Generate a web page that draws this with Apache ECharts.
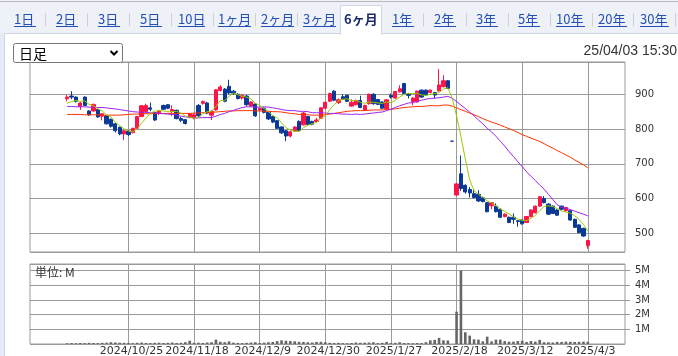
<!DOCTYPE html>
<html><head><meta charset="utf-8">
<script src="https://cdn.jsdelivr.net/npm/echarts@6/dist/echarts.min.js"></script>
<style>html,body{margin:0;padding:0;background:#fff}#c{width:678px;height:356px}</style>
</head><body><div id="c"></div>
<script>
const dates = ['2024/10/4','2024/10/7','2024/10/8','2024/10/9','2024/10/10','2024/10/11','2024/10/15','2024/10/16','2024/10/17','2024/10/18','2024/10/21','2024/10/22','2024/10/23','2024/10/24','2024/10/25','2024/10/28','2024/10/29','2024/10/30','2024/10/31','2024/11/1','2024/11/5','2024/11/6','2024/11/7','2024/11/8','2024/11/11','2024/11/12','2024/11/13','2024/11/14','2024/11/15','2024/11/18','2024/11/19','2024/11/20','2024/11/21','2024/11/22','2024/11/25','2024/11/26','2024/11/27','2024/11/28','2024/11/29','2024/12/2','2024/12/3','2024/12/4','2024/12/5','2024/12/6','2024/12/9','2024/12/10','2024/12/11','2024/12/12','2024/12/13','2024/12/16','2024/12/17','2024/12/18','2024/12/19','2024/12/20','2024/12/23','2024/12/24','2024/12/25','2024/12/26','2024/12/27','2024/12/30','2025/1/6','2025/1/7','2025/1/8','2025/1/9','2025/1/10','2025/1/14','2025/1/15','2025/1/16','2025/1/17','2025/1/20','2025/1/21','2025/1/22','2025/1/23','2025/1/24','2025/1/27','2025/1/28','2025/1/29','2025/1/30','2025/1/31','2025/2/3','2025/2/4','2025/2/5','2025/2/6','2025/2/7','2025/2/10','2025/2/12','2025/2/13','2025/2/14','2025/2/17','2025/2/18','2025/2/19','2025/2/20','2025/2/21','2025/2/25','2025/2/26','2025/2/27','2025/2/28','2025/3/3','2025/3/4','2025/3/5','2025/3/6','2025/3/7','2025/3/10','2025/3/11','2025/3/12','2025/3/13','2025/3/14','2025/3/17','2025/3/18','2025/3/19','2025/3/21','2025/3/24','2025/3/25','2025/3/26','2025/3/27','2025/3/28','2025/3/31','2025/4/1','2025/4/2','2025/4/3'];

const opens = [887,895,892,865,892,852,852,856,837,838, 828,815,805,786,794,790,802,836,850,861, 847,846,868,870,851,854,830,827,833,832, 868,874,875,840,855,911,915,923,909,900, 889,895,866,872,855,860,848,836,824,806, 795,780,794,822,812,836,822,822,831,860, 880,909,876,893,897,866,870,882,855,873, 900,885,878,858,897,889,907,931,900,879, 878,912,912,905,905,910,922,939,765,610, 671,638,626,614,612,602,588,579,578,569, 548,546,546,536,538,531,548,559,578,600, 584,578,567,578,565,565,540,524,514,464];
const closes = [892,892,880,875,868,841,871,835,844,815, 808,795,786,795,784,802,836,867,868,857, 826,851,857,860,856,830,825,816,844,841, 838,879,846,851,913,921,880,904,903,888, 897,870,878,838,859,848,829,820,802,789, 780,792,806,796,846,813,814,826,861,877, 902,883,884,886,880,877,882,862,868,900, 873,871,860,884,892,908,916,902,897,889, 909,892,898,912,898,927,939,917,765,642, 629,619,616,603,593,591,562,588,562,546, 555,531,540,534,527,548,567,578,605,588, 555,557,552,569,574,538,517,502,492,479];
const lows = [880,886,876,855,866,838,850,832,825,813, 804,790,782,768,780,787,800,834,848,851, 823,840,855,857,838,828,820,813,831,828, 835,870,843,826,853,908,877,900,898,885, 885,866,864,835,852,845,826,817,800,786, 765,776,792,794,810,810,811,818,829,858, 878,880,872,884,878,864,868,860,852,870, 870,869,858,856,888,887,905,900,888,868, 876,890,896,903,888,908,920,915,765,608, 622,614,603,600,590,589,560,569,560,544, 546,529,527,519,525,529,546,557,576,586, 553,555,550,566,562,536,515,500,490,455];
const highs = [899,909,894,878,894,854,873,858,846,840, 830,818,807,797,796,804,838,869,873,876, 849,855,870,872,868,856,835,829,846,845, 872,882,878,854,915,926,918,942,912,903, 900,898,880,874,862,862,850,838,826,808, 797,795,808,825,849,838,824,832,863,879, 905,912,888,900,899,885,885,896,870,902, 903,887,880,886,902,910,926,933,903,891, 911,914,914,914,907,973,955,941,765,644, 724,641,633,624,624,604,590,590,586,571, 557,548,557,538,540,550,569,580,607,607, 586,580,569,580,576,567,542,526,516,481];
const volumes = [0.05,0.06,0.05,0.07,0.06,0.08,0.07,0.06,0.08,0.09, 0.12,0.10,0.09,0.08,0.07,0.06,0.08,0.10,0.07,0.06, 0.08,0.09,0.07,0.08,0.10,0.07,0.08,0.12,0.22,0.08, 0.09,0.07,0.10,0.12,0.30,0.15,0.12,0.18,0.09,0.07, 0.06,0.08,0.10,0.12,0.07,0.09,0.12,0.14,0.20,0.25, 0.22,0.20,0.18,0.15,0.14,0.12,0.10,0.14,0.15,0.12, 0.08,0.07,0.08,0.06,0.05,0.07,0.10,0.08,0.09,0.10, 0.12,0.06,0.08,0.14,0.06,0.08,0.12,0.07,0.06,0.05, 0.07,0.06,0.12,0.25,0.28,0.42,0.25,0.24,0,2.2, 5.0,0.80,0.57,0.32,0.30,0.18,0.50,0.18,0.30,0.30, 0.20,0.16,0.16,0.20,0.22,0.14,0.20,0.16,0.28,0.12, 0.12,0.10,0.14,0.14,0.16,0.15,0.14,0.15,0.16,0.15];
const ma5 = [874,879,882,880,881,871,867,858,852,841, 835,819,810,800,794,792,801,817,831,846, 851,854,852,850,850,851,846,837,834,831, 833,844,850,851,865,882,882,894,904,899, 894,892,887,874,868,859,850,839,832,818, 804,797,794,793,804,811,815,819,832,838, 856,870,881,886,887,882,882,877,874,878, 877,875,874,878,876,883,892,900,903,902, 903,898,897,900,902,905,915,919,889,838, 778,714,654,622,612,604,593,587,579,570, 563,556,547,541,537,536,543,551,565,577, 579,577,571,564,561,558,550,540,525,506];
const ma25 = [865,865,864,864,864,863,863,862,862,861, 859,858,856,854,852,850,849,848,848,847, 847,845,844,843,842,840,837,835,834,832, 832,833,833,833,837,842,845,850,854,858, 862,864,864,863,863,864,863,861,859,856, 854,853,853,851,851,850,847,847,847,846, 845,845,844,843,843,842,843,842,843,845, 846,848,849,853,857,862,867,871,875,876, 880,883,886,888,889,890,892,894,889,879, 869,859,849,838,826,815,802,792,779,765, 751,735,721,706,692,677,664,652,639,627, 612,597,582,574,572,568,564,559,555,550];
const ma50 = [842,842,842,842,841,841,841,841,840,840, 840,840,840,841,842,843,843,844,844,844, 845,845,845,845,845,845,845,845,845,846, 846,847,847,848,849,850,851,852,852,853, 853,853,853,852,852,851,851,850,850,849, 847,845,844,842,842,841,840,840,840,841, 843,845,847,849,851,852,853,853,853,854, 855,855,855,856,857,858,860,862,863,864, 865,865,866,868,867,867,869,869,866,861, 856,851,846,841,836,830,825,820,816,811, 806,801,796,790,784,779,774,769,764,758, 751,745,738,732,725,719,711,704,697,688];
const tickDates = ['2024/10/25','2024/11/18','2024/12/9','2024/12/30','2025/1/27','2025/2/18','2025/3/12','2025/4/3'];
const tabs = ['1日','2日','3日','5日','10日','1ヶ月','2ヶ月','3ヶ月','6ヶ月','1年','2年','3年','5年','10年','20年','30年'];
const activeTab = '6ヶ月';
const periodLabel = '日足';
const stampText = '25/04/03 15:30';
const unitText = '単位: M';

// layout (pixels)
const tabLeft = [14,56,98,140,178,218,261,303,344,392,434,476,518,556,598,640];
const tabWidth = [22,22,22,22,27,33,33,33,34,22,22,22,22,29,29,29];
const sepX = [45,87,129,171,213,255,297,423,466,508,550,592,633,675];
const PAD = 8;

const cats = [], candle = [], vol = [], l5 = [], l25 = [], l50 = [];
for (let k = 0; k < PAD; k++) { cats.push('L' + k); candle.push('-'); vol.push('-'); l5.push('-'); l25.push('-'); l50.push('-'); }
for (let i = 0; i < dates.length; i++) {
  cats.push(dates[i]);
  candle.push([opens[i], closes[i], lows[i], highs[i]]);
  vol.push(volumes[i] > 0 ? volumes[i] : '-');
  l5.push(ma5[i]); l25.push(ma25[i]); l50.push(ma50[i]);
}
for (let k = 0; k < PAD; k++) { cats.push('R' + k); candle.push('-'); vol.push('-'); l5.push('-'); l25.push('-'); l50.push('-'); }
const tickSet = new Set(tickDates);

const RED = '#ff1447', BLUE = '#0b3a96', GRID = '#9a9a9a';
const vLines = { silent: true, symbol: 'none', z: 1, animation: false, label: { show: false },
  lineStyle: { color: GRID, type: 'solid', width: 1 }, emphasis: { disabled: true },
  data: tickDates.map(d => ({ xAxis: d })) };

const graphic = [];
graphic.push({ type: 'rect', shape: { x: 0, y: 0, width: 678, height: 33 }, style: { fill: '#eef1f8' }, z: 0 });
graphic.push({ type: 'rect', shape: { x: 0, y: 33, width: 5, height: 323 }, style: { fill: '#e6eaf4' }, z: 0 });
graphic.push({ type: 'line', shape: { x1: 0, y1: 1.5, x2: 678, y2: 1.5 }, style: { stroke: '#b8b8b8', lineWidth: 1 }, z: 1 });
graphic.push({ type: 'line', shape: { x1: 4.5, y1: 33.5, x2: 678, y2: 33.5 }, style: { stroke: '#cdd5e6', lineWidth: 1 }, z: 1 });
graphic.push({ type: 'line', shape: { x1: 4.5, y1: 33.5, x2: 4.5, y2: 356 }, style: { stroke: '#cdd5e6', lineWidth: 1 }, z: 1 });
// active tab
graphic.push({ type: 'rect', shape: { x: 340.5, y: 5.5, width: 41, height: 29 }, style: { fill: '#fff', stroke: '#cdd5e6', lineWidth: 1 }, z: 2 });
graphic.push({ type: 'rect', shape: { x: 341, y: 32, width: 40, height: 4 }, style: { fill: '#fff' }, z: 3 });
tabs.forEach((t, i) => {
  const active = t === activeTab;
  graphic.push({ type: 'text', z: 4, style: { text: t, x: tabLeft[i], y: 19.5, fill: active ? '#1b2a6b' : '#2350b4',
    font: (active ? 'bold ' : '') + '13px "Noto Sans CJK JP"', textAlign: 'left', textVerticalAlign: 'middle', align: 'left', verticalAlign: 'middle' } });
  if (!active) graphic.push({ type: 'line', z: 4, shape: { x1: tabLeft[i], y1: 26.5, x2: tabLeft[i] + tabWidth[i], y2: 26.5 }, style: { stroke: '#2350b4', lineWidth: 1 } });
});
sepX.forEach(x => graphic.push({ type: 'line', z: 4, shape: { x1: x + 0.5, y1: 13, x2: x + 0.5, y2: 26 }, style: { stroke: '#d0d0d0', lineWidth: 1 } }));
// select box
graphic.push({ type: 'rect', z: 4, shape: { x: 13.5, y: 43.5, width: 109, height: 19, r: 2 }, style: { fill: '#fff', stroke: '#767676', lineWidth: 1 } });
graphic.push({ type: 'text', z: 5, style: { text: periodLabel, x: 19, y: 53.5, fill: '#000', font: '14px "Noto Sans CJK JP"', textAlign: 'left', textVerticalAlign: 'middle', align: 'left', verticalAlign: 'middle' } });
graphic.push({ type: 'polyline', z: 5, shape: { points: [[110.5, 51], [114, 54.5], [117.5, 51]] }, style: { stroke: '#000', lineWidth: 2, fill: null } });
graphic.push({ type: 'text', z: 5, style: { text: stampText, x: 677, y: 51, fill: '#333', font: '14px "Liberation Sans"', textAlign: 'right', textVerticalAlign: 'middle', align: 'right', verticalAlign: 'middle' } });
graphic.push({ type: 'text', z: 5, style: { text: unitText, x: 35, y: 272.5, fill: '#333', font: '12px "Noto Sans CJK JP"', textAlign: 'left', textVerticalAlign: 'middle', align: 'left', verticalAlign: 'middle' } });

const axisFont = { fontFamily: 'DejaVu Sans', color: '#333' };
const chart = echarts.init(document.getElementById('c'), null, { renderer: 'canvas' });
chart.setOption({
  animation: false,
  backgroundColor: '#fff',
  graphic: graphic,
  grid: [
    { left: 30, top: 62, width: 595, height: 190, show: true, borderColor: GRID, borderWidth: 1, backgroundColor: 'transparent', outerBoundsMode: 'none', containLabel: false },
    { left: 30, top: 264, width: 595, height: 80, show: true, borderColor: GRID, borderWidth: 1, backgroundColor: 'transparent', outerBoundsMode: 'none', containLabel: false }
  ],
  xAxis: [
    { type: 'category', gridIndex: 0, data: cats, boundaryGap: true, axisLine: { show: false }, axisTick: { show: false }, axisLabel: { show: false }, splitLine: { show: false } },
    { type: 'category', gridIndex: 1, data: cats, boundaryGap: true, axisLine: { show: false }, axisTick: { show: false }, splitLine: { show: false },
      axisLabel: { show: true, interval: (idx, val) => tickSet.has(val), hideOverlap: false, margin: 2, fontSize: 11, padding: [0, 0, 0, 6], ...axisFont } }
  ],
  yAxis: [
    { type: 'value', gridIndex: 0, position: 'right', min: 446, max: 993, splitNumber: 5, scale: true,
      axisLine: { show: false }, axisTick: { show: false },
      axisLabel: { margin: 10, fontSize: 10, showMinLabel: false, showMaxLabel: false, ...axisFont },
      splitLine: { show: true, lineStyle: { color: GRID, width: 1 } } },
    { type: 'value', gridIndex: 1, position: 'right', min: 0, max: 5.45, interval: 1,
      axisLine: { show: false }, axisTick: { show: true, length: 5, lineStyle: { color: GRID } },
      axisLabel: { margin: 10, fontSize: 10, showMinLabel: false, showMaxLabel: false, formatter: v => (v > 0 && v <= 5) ? v + 'M' : '', ...axisFont },
      splitLine: { show: true, lineStyle: { color: GRID, width: 1 } } }
  ],
  series: [
    { type: 'candlestick', name: 'price', xAxisIndex: 0, yAxisIndex: 0, data: candle, barWidth: 3.8, z: 3,
      itemStyle: { color: RED, color0: BLUE, borderColor: RED, borderColor0: BLUE, borderWidth: 1 },
      markLine: vLines },
    { type: 'line', name: 'MA50', xAxisIndex: 0, yAxisIndex: 0, data: l50, showSymbol: false, symbol: 'none', z: 4, lineStyle: { color: '#ff3300', width: 1 }, silent: true },
    { type: 'line', name: 'MA25', xAxisIndex: 0, yAxisIndex: 0, data: l25, showSymbol: false, symbol: 'none', z: 4, lineStyle: { color: '#9f22f2', width: 1 }, silent: true },
    { type: 'line', name: 'MA5', xAxisIndex: 0, yAxisIndex: 0, data: l5, showSymbol: false, symbol: 'none', z: 5, lineStyle: { color: '#99cc00', width: 1 }, silent: true },
    { type: 'bar', name: 'volume', xAxisIndex: 1, yAxisIndex: 1, data: vol, barWidth: 2.6, z: 3,
      itemStyle: { color: '#666666' }, markLine: vLines }
  ]
});
</script>
</body></html>
